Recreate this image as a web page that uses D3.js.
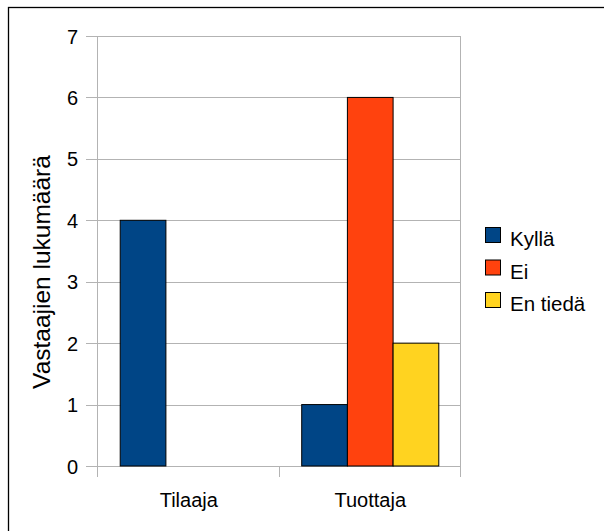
<!DOCTYPE html>
<html>
<head>
<meta charset="utf-8">
<script src="https://cdn.jsdelivr.net/npm/d3@7"></script>
<style>
  html, body { margin: 0; padding: 0; background: #fff; }
  svg { display: block; }
  text { font-family: "Liberation Sans", Arial, sans-serif; fill: #000; }
</style>
</head>
<body>
<svg id="chart" width="604" height="531"></svg>
<script>
const categories = ["Tilaaja", "Tuottaja"];
const seriesNames = ["Kyllä", "Ei", "En tiedä"];
const seriesColors = ["#004586", "#ff420e", "#ffd320"];
const kylla = [4, 1];
const ei = [0, 6];
const enTieda = [0, 2];
const yTicks = [0, 1, 2, 3, 4, 5, 6, 7];
const yTitle = "Vastaajien lukumäärä";

const seriesValues = [kylla, ei, enTieda];

const svg = d3.select("#chart");

// outer frame
svg.append("rect")
  .attr("x", 8.5).attr("y", 7.5)
  .attr("width", 800).attr("height", 800)
  .attr("fill", "none").attr("stroke", "#000").attr("stroke-width", 1.3);

const pLeft = 98, pRight = 461, pTop = 36, pBottom = 466;

const x0 = d3.scaleBand().domain(categories).range([pLeft, pRight]).paddingInner(0).paddingOuter(0);
const x1 = d3.scaleBand().domain(seriesNames).range([0, x0.bandwidth()]).paddingInner(0).paddingOuter(0.486);
const y = d3.scaleLinear().domain([0, 7]).range([pBottom, pTop]);

const grid = "#b3b3b3";

// gridlines
svg.append("g").selectAll("line").data(yTicks).join("line")
  .attr("x1", pLeft - 12).attr("x2", pRight)
  .attr("y1", d => Math.round(y(d)) + 0.5).attr("y2", d => Math.round(y(d)) + 0.5)
  .attr("stroke", grid).attr("stroke-width", 1);

// y axis line and right wall
svg.append("line").attr("x1", pLeft - 0.5).attr("x2", pLeft - 0.5)
  .attr("y1", pTop).attr("y2", pBottom + 11).attr("stroke", grid);
svg.append("line").attr("x1", pRight - 0.5).attr("x2", pRight - 0.5)
  .attr("y1", pTop).attr("y2", pBottom + 11).attr("stroke", grid);
// middle category tick
svg.append("g").selectAll("line").data(categories.slice(1)).join("line")
  .attr("x1", d => Math.round(x0(d)) - 0.5).attr("x2", d => Math.round(x0(d)) - 0.5)
  .attr("y1", pBottom).attr("y2", pBottom + 11).attr("stroke", grid);

// y tick labels
const yAxis = d3.axisLeft(y).tickValues(yTicks).tickSize(0).tickPadding(0).tickFormat(d3.format("d"));
const gy = svg.append("g").attr("transform", `translate(${pLeft - 20},0)`).call(yAxis);
gy.select(".domain").remove();
gy.selectAll("text").attr("font-size", 20).attr("font-family", "Liberation Sans, Arial, sans-serif").attr("fill", "#000").attr("dy", "0.35em");

// x labels
const xAxis = d3.axisBottom(x0).tickSize(0).tickPadding(0);
const gx = svg.append("g").attr("transform", `translate(0,${pBottom + 41})`).call(xAxis);
gx.select(".domain").remove();
gx.selectAll("text").attr("font-size", 20).attr("font-family", "Liberation Sans, Arial, sans-serif").attr("fill", "#000").attr("dy", 0);

// bars
const groups = svg.append("g").selectAll("g").data(categories).join("g")
  .attr("transform", d => `translate(${x0(d)},0)`);
groups.selectAll("rect")
  .data((c, ci) => seriesNames.map((s, si) => ({ s, si, v: seriesValues[si][ci] })).filter(d => d.v > 0))
  .join("rect")
  .attr("x", d => x1(d.s))
  .attr("y", d => y(d.v))
  .attr("width", x1.bandwidth())
  .attr("height", d => y(0) - y(d.v))
  .attr("fill", d => seriesColors[d.si])
  .attr("stroke", "#000").attr("stroke-width", 1);

// y title
svg.append("text")
  .attr("transform", `translate(50,272) rotate(-90)`)
  .attr("text-anchor", "middle")
  .attr("font-size", 24.5)
  .text(yTitle);

// legend
const legend = svg.append("g").selectAll("g").data(seriesNames).join("g")
  .attr("transform", (d, i) => `translate(485,${227 + i * 32.5})`);
legend.append("rect").attr("x", 0.5).attr("y", 0.5).attr("width", 15).attr("height", 15)
  .attr("fill", (d, i) => seriesColors[i]).attr("stroke", "#000").attr("stroke-width", 1);
legend.append("text").attr("x", 25).attr("y", 19).attr("font-size", 20.5).text(d => d);
</script>
</body>
</html>
